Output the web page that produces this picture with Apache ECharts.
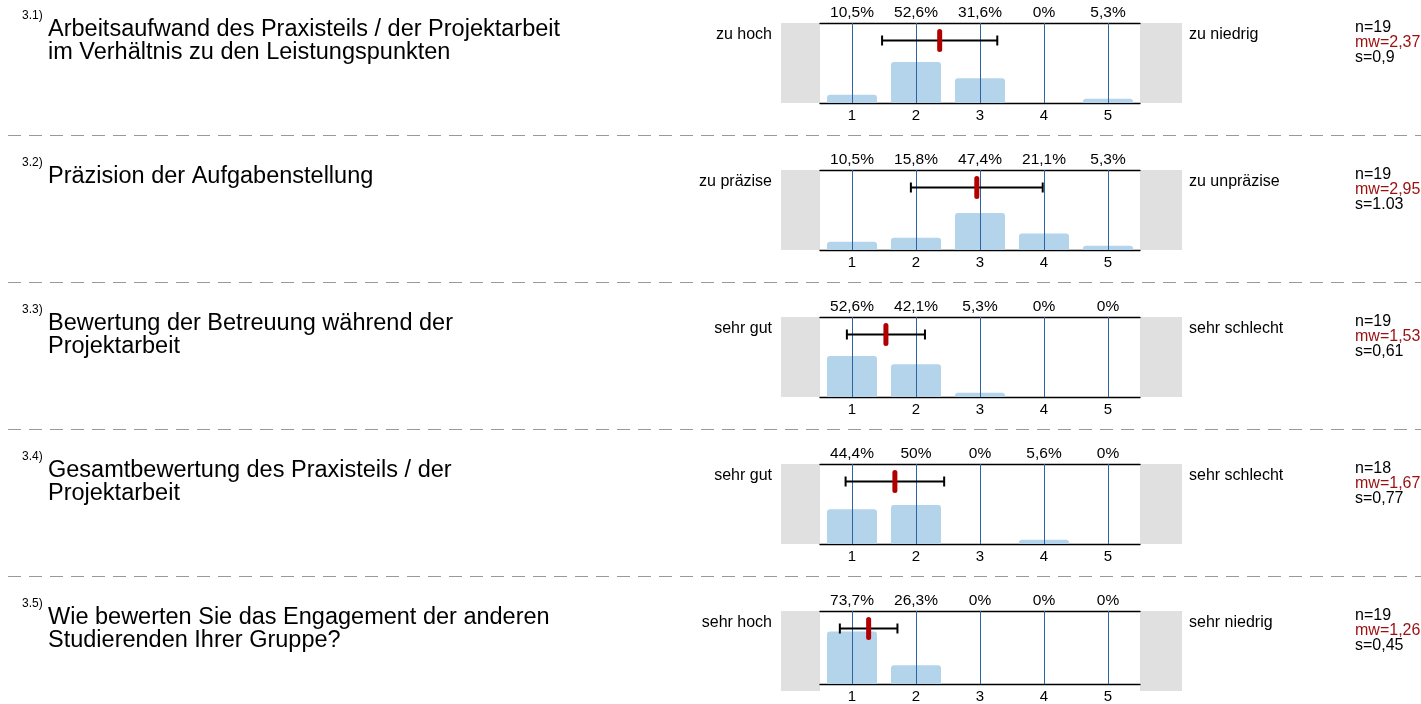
<!DOCTYPE html>
<html><head><meta charset="utf-8">
<script src="https://cdn.jsdelivr.net/npm/echarts@6/dist/echarts.min.js"></script>
<style>html,body{margin:0;padding:0;background:#fff}#c{width:1421px;height:704px}</style>
</head><body><div id="c"></div>
<script>
const categories = ['1', '2', '3', '4', '5'];
const questionNumbers = ['3.1)', '3.2)', '3.3)', '3.4)', '3.5)'];
const questionTitles = [
  'Arbeitsaufwand des Praxisteils / der Projektarbeit\nim Verhältnis zu den Leistungspunkten',
  'Präzision der Aufgabenstellung',
  'Bewertung der Betreuung während der\nProjektarbeit',
  'Gesamtbewertung des Praxisteils / der\nProjektarbeit',
  'Wie bewerten Sie das Engagement der anderen\nStudierenden Ihrer Gruppe?'
];
const leftLabels = ['zu hoch', 'zu präzise', 'sehr gut', 'sehr gut', 'sehr hoch'];
const rightLabels = ['zu niedrig', 'zu unpräzise', 'sehr schlecht', 'sehr schlecht', 'sehr niedrig'];
const pctQ1 = [10.5, 52.6, 31.6, 0, 5.3];
const pctQ2 = [10.5, 15.8, 47.4, 21.1, 5.3];
const pctQ3 = [52.6, 42.1, 5.3, 0, 0];
const pctQ4 = [44.4, 50, 0, 5.6, 0];
const pctQ5 = [73.7, 26.3, 0, 0, 0];
const nValues = [19, 19, 19, 18, 19];
const meanValues = [2.37, 2.95, 1.53, 1.67, 1.26];
const sdValues = [0.9, 1.03, 0.61, 0.77, 0.45];
const sdLabels = ['0,9', '1.03', '0,61', '0,77', '0,45'];

const pcts = [pctQ1, pctQ2, pctQ3, pctQ4, pctQ5];
const FONT = "'Liberation Sans', Arial, sans-serif";
const fmt = v => String(v).replace('.', ',');

const panelTop = i => 23 + i * 147;
const grids = [], xAxes = [], yAxes = [], series = [], graphics = [];

function txt(text, x, y, size, color, align, vAlign, lh) {
  return {
    type: 'text', silent: true,
    style: {
      text: text, x: x, y: y, fill: color,
      font: size + 'px ' + FONT,
      align: align, verticalAlign: vAlign,
      textAlign: align, textVerticalAlign: vAlign,
      lineHeight: lh || size + 2
    }
  };
}

for (let i = 0; i < 5; i++) {
  const T = panelTop(i);
  grids.push({ left: 820, top: T, width: 320, height: 80 });
  xAxes.push({
    gridIndex: i, type: 'category', data: categories, position: 'bottom',
    axisLine: { lineStyle: { color: '#000', width: 1.3 } },
    axisTick: { show: false },
    axisLabel: { color: '#000', fontSize: 15, fontFamily: FONT, margin: 5 },
    splitLine: { show: false }
  });
  xAxes.push({
    gridIndex: i, type: 'category', data: categories, position: 'top',
    axisLine: { lineStyle: { color: '#000', width: 1.3 } },
    axisTick: { show: false },
    axisLabel: { color: '#000', fontSize: 15.5, fontFamily: FONT, margin: 2,
      formatter: (v, idx) => fmt(pcts[i][idx]) + '%' },
    splitLine: { show: false }
  });
  xAxes.push({ gridIndex: i, type: 'value', min: 0.5, max: 5.5, show: false });
  yAxes.push({ gridIndex: i, type: 'value', min: 0, max: 102.5, show: false });

  series.push({
    type: 'bar', xAxisIndex: 3 * i, yAxisIndex: i, data: pcts[i],
    barWidth: 50, silent: true,
    itemStyle: { color: '#b3d4eb', borderRadius: [3, 3, 0, 0] }, z: 2
  });
  series.push({
    type: 'custom', xAxisIndex: 3 * i + 2, yAxisIndex: i, silent: true, z: 3,
    data: categories.map(c => [Number(c)]),
    renderItem: (params, api) => {
      const cs = params.coordSys;
      const x = Math.round(api.coord([api.value(0), 0])[0]) + 0.5;
      return { type: 'line', shape: { x1: x, y1: cs.y, x2: x, y2: cs.y + cs.height },
        style: { stroke: '#2b63a3', lineWidth: 1 } };
    }
  });
  series.push({
    type: 'custom', xAxisIndex: 3 * i + 2, yAxisIndex: i, silent: true, z: 4,
    data: [[meanValues[i], sdValues[i]]],
    renderItem: (params, api) => {
      const cs = params.coordSys;
      const m = api.value(0), s = api.value(1);
      const y = cs.y + 17.5;
      const xm = api.coord([m, 0])[0];
      const x1 = api.coord([m - s, 0])[0];
      const x2 = api.coord([m + s, 0])[0];
      const st = { stroke: '#000', lineWidth: 2 };
      return { type: 'group', children: [
        { type: 'line', shape: { x1: x1, y1: y, x2: x2, y2: y }, style: st },
        { type: 'line', shape: { x1: x1, y1: y - 5, x2: x1, y2: y + 5 }, style: st },
        { type: 'line', shape: { x1: x2, y1: y - 5, x2: x2, y2: y + 5 }, style: st },
        { type: 'rect', shape: { x: xm - 2.5, y: y - 11.5, width: 5, height: 23, r: 2.5 },
          style: { fill: '#b00000' } }
      ] };
    }
  });

  // grey end boxes
  graphics.push({ type: 'rect', silent: true, z: -1, shape: { x: 781, y: T, width: 39, height: 80 }, style: { fill: '#e0e0e0' } });
  graphics.push({ type: 'rect', silent: true, z: -1, shape: { x: 1140, y: T, width: 42, height: 80 }, style: { fill: '#e0e0e0' } });

  graphics.push(txt(questionNumbers[i], 22, T - 7, 12, '#000', 'left', 'middle'));
  graphics.push(txt(questionTitles[i], 48, T - 5, 23.5, '#000', 'left', 'top', 23));
  graphics.push(txt(leftLabels[i], 772, T + 12, 16, '#000', 'right', 'middle'));
  graphics.push(txt(rightLabels[i], 1189, T + 12, 16, '#000', 'left', 'middle'));
  graphics.push(txt('n=' + nValues[i], 1355, T + 5, 16, '#000', 'left', 'middle'));
  graphics.push(txt('mw=' + fmt(meanValues[i]), 1355, T + 20, 16, '#9b0f0f', 'left', 'middle'));
  graphics.push(txt('s=' + sdLabels[i], 1355, T + 35, 16, '#000', 'left', 'middle'));

  if (i < 4) {
    const y = T + 112.5;
    graphics.push({ type: 'line', silent: true, shape: { x1: 8, y1: y, x2: 1421, y2: y },
      style: { stroke: '#999', lineWidth: 1.2, lineDash: [13, 8] } });
  }
}

const chart = echarts.init(document.getElementById('c'), null, { renderer: 'canvas' });
chart.setOption({
  animation: false,
  backgroundColor: '#fff',
  grid: grids, xAxis: xAxes, yAxis: yAxes, series: series,
  graphic: { elements: graphics }
});
</script></body></html>
